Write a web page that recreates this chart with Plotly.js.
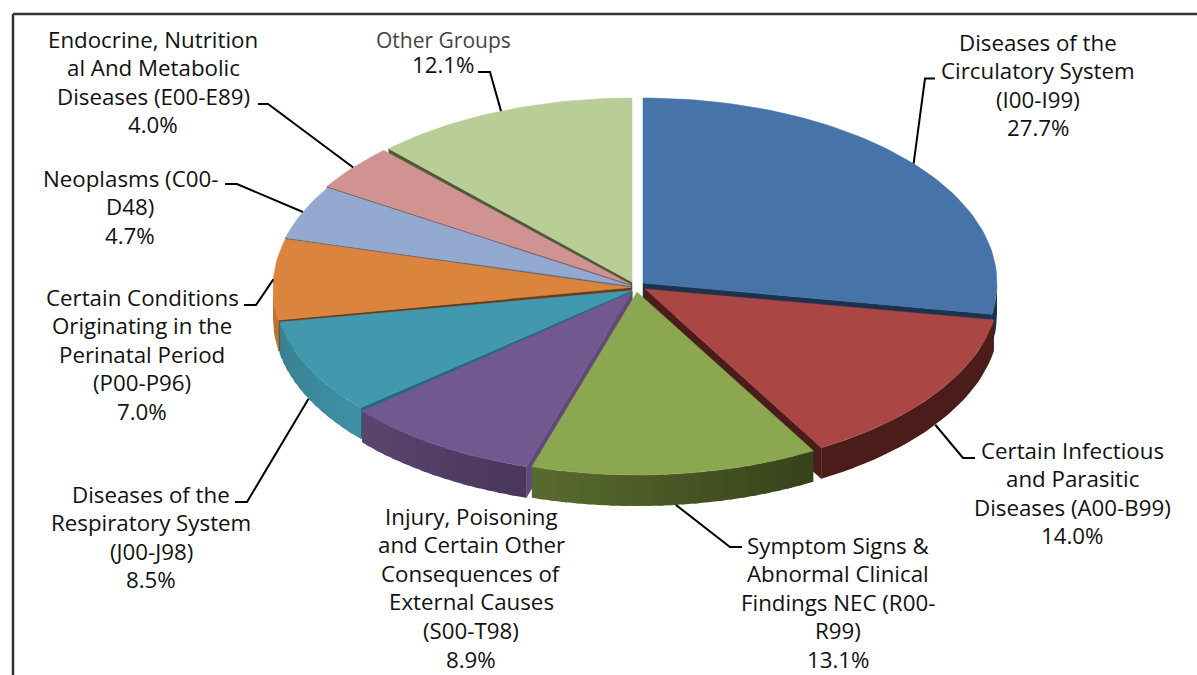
<!DOCTYPE html>
<html><head><meta charset="utf-8">
<script src="https://cdn.plot.ly/plotly-3.0.1.min.js"></script>
<style>html,body{margin:0;padding:0;background:#fff}</style></head>
<body><div id="chart" style="width:1197px;height:675px"></div>
<script>
// ---- data ----
var categories = ["Diseases of the Circulatory System (I00-I99)","Certain Infectious and Parasitic Diseases (A00-B99)","Symptom Signs & Abnormal Clinical Findings NEC (R00-R99)","Injury, Poisoning and Certain Other Consequences of External Causes (S00-T98)","Diseases of the Respiratory System (J00-J98)","Certain Conditions Originating in the Perinatal Period (P00-P96)","Neoplasms (C00-D48)","Endocrine, Nutritional And Metabolic Diseases (E00-E89)","Other Groups"];
var values = [27.7,14.0,13.1,8.9,8.5,7.0,4.7,4.0,12.1];
var labelLines = [
 ["Diseases of the","Circulatory System","(I00-I99)"],
 ["Certain Infectious","and Parasitic","Diseases (A00-B99)"],
 ["Symptom Signs &","Abnormal Clinical","Findings NEC (R00-","R99)"],
 ["Injury, Poisoning","and Certain Other","Consequences of","External Causes","(S00-T98)"],
 ["Diseases of the","Respiratory System","(J00-J98)"],
 ["Certain Conditions","Originating in the","Perinatal Period","(P00-P96)"],
 ["Neoplasms (C00-","D48)"],
 ["Endocrine, Nutrition","al And Metabolic","Diseases (E00-E89)"],
 ["Other Groups"]
];
// ---- styles / layout geometry ----
var topColors = ["#4674a9","#aa4644","#8ba74f","#71588f","#4198af","#db843d","#93a9cf","#d19392","#b9cd96"];
var wallFrom  = ["#1c3350","#4a1c1a","#364219","#4a365c","#3f90a6","#c0722f","#4f5d78","#6a4a4a","#4f5a3a"];
var wallTo    = ["#1c3350","#4a1c1a","#5a6b30","#5a4570","#38808f","#c0722f","#4f5d78","#6a4a4a","#4f5a3a"];
var edgeColors= ["#1c3350","#4a1c1a","#364219","#5f4a7a","#226a7e","#6a3a14","#4f5d78","#6a4a4a","#4f5a3a"];
var centerX = [643,645,637,632,632,631,631,630.5,632];
var centerY = [283,289,292,292,290.5,287.5,286,284.5,282];
var radiusX = [354,354,354,356,358,358,358,358,353];
var radiusY = [185,183,183,183,180,186,185,185,184];
var depth = 31;
var labelX = [1038,1072,838,471,151,142,130,153,443.5];
var labelY = [42,450,545,516,494,297,178,39,40];
var lineStep = 28.6;
var elbows = [[[925,78.5],[935,78.5]],[[963,458],[975,458]],[[730,547],[742,547]],null,[[247,502],[235,502]],[[256,305],[244,305]],[[237,184],[225,184]],[[268,104],[258,104]],[[490,72],[478,72]]];
var drawOrder = [8,7,6,5,0,4,3,1,2];

var total = values.reduce(function(a,b){return a+b;},0);
var starts = [], acc = 0;
values.forEach(function(v){starts.push(acc/total*360); acc += v;});
function pt(i,deg,dy){var r=deg*Math.PI/180;return [centerX[i]+radiusX[i]*Math.sin(r), centerY[i]-radiusY[i]*Math.cos(r)+(dy||0)];}
function arc(i,a,b,dy){var out=[],n=Math.max(2,Math.ceil(Math.abs(b-a)/1.5));for(var k=0;k<=n;k++)out.push(pt(i,a+(b-a)*k/n,dy));return out;}
function hex(c){return [1,3,5].map(function(p){return parseInt(c.substr(p,2),16);});}
function mix(a,b,t){var x=hex(a),y=hex(b);return "rgb("+x.map(function(v,k){return Math.round(v+(y[k]-v)*t);}).join(",")+")";}
var traces=[];
function poly(points,color,name,lw){
  var xs=points.map(function(p){return p[0];}),ys=points.map(function(p){return p[1];});
  xs.push(xs[0]);ys.push(ys[0]);
  traces.push({type:"scatter",mode:"lines",x:xs,y:ys,fill:"toself",fillcolor:color,line:{color:color,width:lw},hoverinfo:"text",text:name,showlegend:false});
}
drawOrder.forEach(function(i){
  var a=starts[i], b=a+values[i]/total*360, name=categories[i]+": "+values[i].toFixed(1)+"%";
  var apex=[centerX[i],centerY[i]];
  var edge = b<180 ? b : (a>=180 ? a : null);
  if(edge!==null){var c=pt(i,edge);poly([apex,c,[c[0],c[1]+depth],[apex[0],apex[1]+depth]],edgeColors[i],name,0.5);}
  var lo=Math.max(a,90), hi=Math.min(b,270);
  if(hi>lo){var bands=wallFrom[i]===wallTo[i]?1:Math.max(1,Math.round((hi-lo)/2));
    for(var k=0;k<bands;k++){
      var s=lo+(hi-lo)*k/bands, e=Math.min(hi,lo+(hi-lo)*(k+1)/bands+1);
      poly(arc(i,s,e,0).concat(arc(i,e,s,depth)),mix(wallFrom[i],wallTo[i],(k+0.5)/bands),name,0);
    }
  }
  poly([apex].concat(arc(i,a,b,0)),topColors[i],name,0.5);
});
var shapes=[
 {type:"line",x0:13,y0:14,x1:1197,y1:14,line:{color:"#333",width:2.5}},
 {type:"line",x0:13,y0:14,x1:13,y1:675,line:{color:"#333",width:2.5}}
];
var annotations=[];
values.forEach(function(v,i){
  var mid=starts[i]+v/total*180;
  if(elbows[i]){
    var inFront = mid>90 && mid<270, p=pt(i,mid,inFront?depth:0);
    var path="M"+p[0]+","+p[1]+" L"+elbows[i][0].join(",")+" L"+elbows[i][1].join(",");
    shapes.push({type:"path",path:path,line:{color:"#000",width:2},layer:"above"});
  }
  var lines=labelLines[i].concat([v.toFixed(1)+"%"]);
  lines.forEach(function(t,k){
    var step = i===8 ? 24 : lineStep, isOther=(i===8&&k===0);
    annotations.push({x:labelX[i],y:labelY[i]+k*step,xref:"x",yref:"y",text:t.replace(/&/g,"&amp;"),showarrow:false,xanchor:"center",yanchor:"middle",
      font:{family:"Open Sans, sans-serif",size:isOther?21:22.3,color:isOther?"#444":"#111"}});
  });
});
Plotly.newPlot("chart",traces,{
  width:1197,height:675,margin:{l:0,r:0,t:0,b:0},paper_bgcolor:"#fff",plot_bgcolor:"#fff",showlegend:false,
  xaxis:{range:[0,1197],visible:false,fixedrange:true},
  yaxis:{range:[675,0],visible:false,fixedrange:true},
  shapes:shapes,annotations:annotations
},{displayModeBar:false});
</script></body></html>
